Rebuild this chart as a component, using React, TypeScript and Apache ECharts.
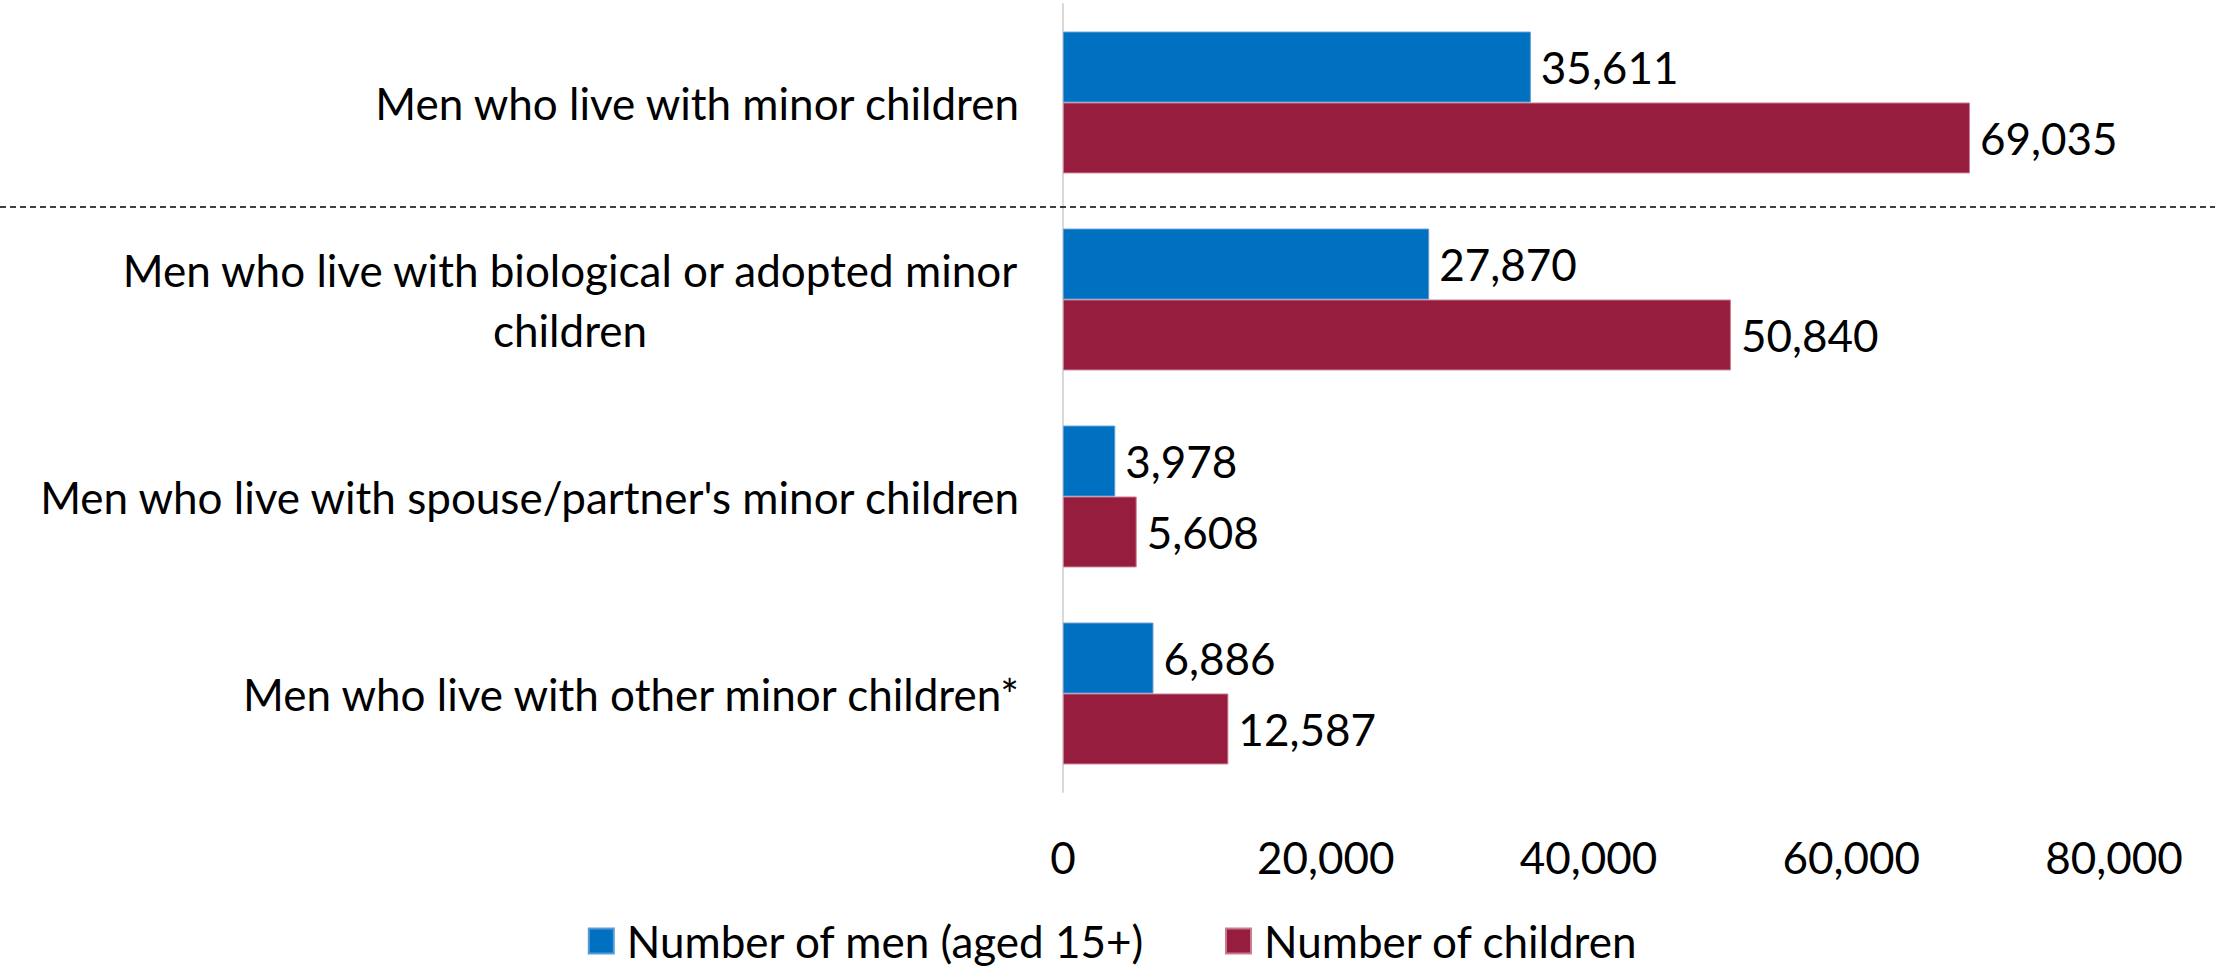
import React, { useEffect, useRef } from "react";
import * as echarts from "echarts";

const categories = [
  "Men who live with minor children",
  "Men who live with biological or adopted minor\nchildren",
  "Men who live with spouse/partner's minor children",
  "Men who live with other minor children*",
];
const menValues = [35611, 27870, 3978, 6886];
const childrenValues = [69035, 50840, 5608, 12587];
const seriesNames = ["Number of men (aged 15+)", "Number of children"];
const xTicks = [0, 20000, 40000, 60000, 80000];

const FONT = "Lato";
const FS = 44;

function measure(text: string): number {
  const c = document.createElement("canvas").getContext("2d");
  if (!c) return text.length * FS * 0.5;
  c.font = `${FS}px ${FONT}`;
  return c.measureText(text).width;
}

export default function App() {
  const ref = useRef<HTMLDivElement>(null);
  useEffect(() => {
    if (!ref.current) return;
    const chart = echarts.init(ref.current, undefined, { renderer: "svg" });
    const fmt = (v: number) => v.toLocaleString("en-US");
    const option: any = {
      animation: false,
      textStyle: { fontFamily: FONT },
      grid: { left: 1063, right: 112, top: 4, bottom: 176, containLabel: false },
      legend: {
        data: seriesNames,
        top: 914,
        left: "center",
        itemWidth: 25,
        itemHeight: 25,
        itemGap: 80,
        icon: "rect",
        textStyle: { fontSize: FS, color: "#000", fontFamily: FONT, padding: [0, 0, 0, 8] },
      },
      xAxis: {
        type: "value",
        min: xTicks[0],
        max: xTicks[xTicks.length - 1],
        interval: xTicks[1] - xTicks[0],
        axisLine: { show: false },
        axisTick: { show: false },
        splitLine: { show: false },
        axisLabel: {
          fontSize: FS,
          color: "#000",
          margin: 43,
          formatter: (v: number) => fmt(v),
        },
      },
      yAxis: {
        type: "category",
        data: categories,
        inverse: true,
        axisLine: { show: true, lineStyle: { color: "#D9D9D9", width: 2 } },
        axisTick: { show: false },
        axisLabel: {
          fontSize: FS,
          color: "#000",
          margin: 44,
          lineHeight: 60,
          formatter: (v: string) => {
            if (v.indexOf("\n") < 0) return v;
            const lines = v.split("\n");
            return lines.map((l) => `{c|${l}}`).join("\n");
          },
          rich: {
            c: {
              fontSize: FS,
              fontFamily: FONT,
              color: "#000",
              lineHeight: 60,
              align: "center",
              width: Math.ceil(measure(categories[1].split("\n")[0])),
            },
          },
        },
      },
      series: [
        {
          name: seriesNames[0],
          type: "bar",
          data: menValues,
          barGap: "0%",
          barCategoryGap: "28%",
          itemStyle: { color: "#0070C0", borderColor: "#5B9BD5", borderWidth: 1 },
          label: {
            show: true,
            position: "right",
            distance: 10,
            fontSize: FS,
            color: "#000",
            fontFamily: FONT,
            formatter: (p: any) => fmt(p.value),
          },
        },
        {
          name: seriesNames[1],
          type: "bar",
          data: childrenValues,
          itemStyle: { color: "#971D3E", borderColor: "#C77A90", borderWidth: 1 },
          label: {
            show: true,
            position: "right",
            distance: 10,
            fontSize: FS,
            color: "#000",
            fontFamily: FONT,
            formatter: (p: any) => fmt(p.value),
          },
        },
      ],
    };
    chart.setOption(option);
    const y0 = chart.convertToPixel({ yAxisIndex: 0 }, 0) as number;
    const y1 = chart.convertToPixel({ yAxisIndex: 0 }, 1) as number;
    const ySep = Math.round((y0 + y1) / 2 + 6);
    chart.setOption({
      graphic: [
        {
          type: "line",
          shape: { x1: 0, y1: ySep, x2: 2215, y2: ySep },
          style: { stroke: "#000", lineWidth: 1.5, lineDash: [6, 4] },
          z: 10,
        },
      ],
    });
    return () => chart.dispose();
  }, []);
  return (
    <div
      ref={ref}
      style={{ position: "fixed", left: 0, top: 0, width: 2226, height: 968, background: "#fff" }}
    />
  );
}
